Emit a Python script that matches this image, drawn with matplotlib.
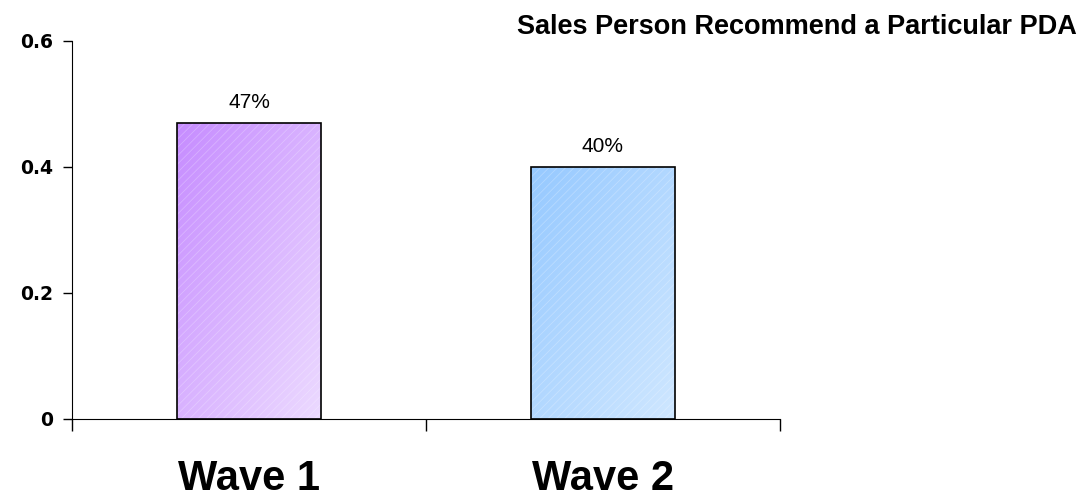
import numpy as np
import matplotlib.pyplot as plt
from matplotlib.colors import LinearSegmentedColormap

categories = ["Wave 1", "Wave 2"]
values = [0.47, 0.40]
value_labels = ["47%", "40%"]
title = "Sales Person Recommend a Particular PDA"
yticks = [0, 0.2, 0.4, 0.6]
ytick_labels = ["0", "0.2", "0.4", "0.6"]

# gradient colours (top-left dark -> bottom-right light)
grad_colours = [("#c68cff", "#ecdaff"), ("#96c9ff", "#cfe7ff")]

plt.rcParams["hatch.linewidth"] = 0.6

fig = plt.figure(figsize=(10.82, 4.99), dpi=100)
ax = fig.add_axes([72 / 1082, 1 - 419 / 499, (780 - 72) / 1082, (419 - 41) / 499])

x = np.arange(len(categories))
bar_width = 0.405

# diagonal gradient fill clipped to each bar
bars = ax.bar(x, values, width=bar_width, color="none", edgecolor="black", linewidth=1.2, zorder=4)
gy, gx = np.mgrid[0:1:200j, 0:1:200j]
grad = (gx + gy) / 2
for i, (b, (c1, c2)) in enumerate(zip(bars, grad_colours)):
    cmap = LinearSegmentedColormap.from_list("g%d" % i, [c1, c2])
    x0, w, h = b.get_x(), b.get_width(), b.get_height()
    im = ax.imshow(grad, cmap=cmap, extent=[x0, x0 + w, 0, h], origin="upper",
                   aspect="auto", zorder=2, interpolation="bilinear")
    im.set_clip_path(b)
    ax.text(x0 + w / 2, h + 0.024, value_labels[i], ha="center", va="baseline",
            fontsize=15, family="Liberation Sans", zorder=5)

# faint white diagonal texture
ax.bar(x, values, width=bar_width, color="none", edgecolor=(1, 1, 1, 0.25),
       linewidth=0, hatch="////", zorder=3)

ax.set_xlim(-0.5, 1.5)
ax.set_ylim(0, 0.6)
ax.set_yticks(yticks)
ax.set_yticklabels(ytick_labels, fontsize=13.5, fontweight="bold")
ax.set_xticks([-0.5, 0.5, 1.5])
ax.set_xticklabels([])
ax.tick_params(axis="x", direction="out", length=8.6, width=1)
ax.tick_params(axis="y", direction="out", length=6.5, width=1, pad=7)
for i, c in enumerate(categories):
    ax.text(x[i], -0.112, c, ha="center", va="baseline", fontsize=30,
            fontweight="bold", family="Liberation Sans")
ax.spines["top"].set_visible(False)
ax.spines["right"].set_visible(False)

fig.text(1077 / 1082, 1 - 34 / 499, title, ha="right", va="baseline", fontsize=19.5,
         fontweight="bold", family="Liberation Sans")

fig.savefig("out.png", dpi=100)
